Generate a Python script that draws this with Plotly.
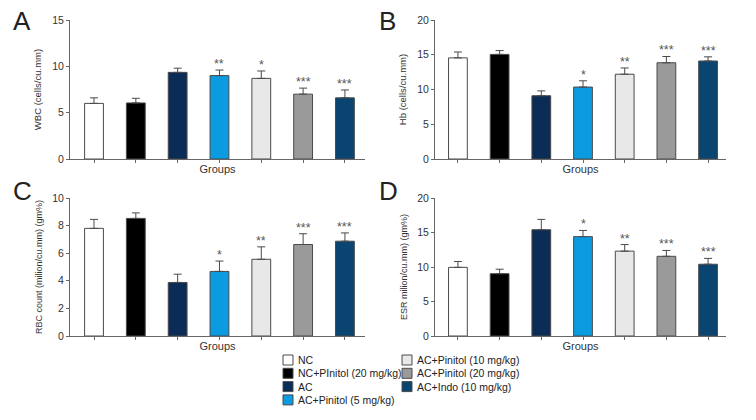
import plotly.graph_objects as go

groups = ["NC", "NC+PInitol (20 mg/kg)", "AC", "AC+Pinitol (5 mg/kg)",
          "AC+Pinitol (10 mg/kg)", "AC+Pinitol (20 mg/kg)", "AC+Indo (10 mg/kg)"]
colors = ["#ffffff", "#000000", "#0b2c57", "#0a9be0", "#e8e8e8", "#9a9a9a", "#0a4470"]

wbc = [6.0, 6.05, 9.35, 9.0, 8.7, 7.0, 6.6]
wbc_err = [0.6, 0.5, 0.45, 0.6, 0.8, 0.65, 0.85]
hb = [14.55, 15.05, 9.1, 10.35, 12.2, 13.85, 14.1]
hb_err = [0.85, 0.55, 0.7, 0.9, 0.9, 0.9, 0.6]
rbc = [7.8, 8.52, 3.88, 4.68, 5.56, 6.63, 6.87]
rbc_err = [0.65, 0.4, 0.6, 0.75, 0.9, 0.78, 0.6]
esr = [9.95, 9.03, 15.4, 14.4, 12.3, 11.55, 10.4]
esr_err = [0.85, 0.65, 1.5, 0.9, 0.95, 0.85, 0.85]
sig = ["", "", "", "**", "*", "***", "***"]
sig_hb = ["", "", "", "*", "**", "***", "***"]

panels = [
    dict(vals=wbc, err=wbc_err, sig=sig, xa="x", ya="y",
         title="WBC (cells/cu.mm)", letter="A"),
    dict(vals=hb, err=hb_err, sig=sig_hb, xa="x2", ya="y2",
         title="Hb (cells/cu.mm)", letter="B"),
    dict(vals=rbc, err=rbc_err, sig=sig_hb, xa="x3", ya="y3",
         title="RBC count (milion/cu.mm) (gm%)", letter="C"),
    dict(vals=esr, err=esr_err, sig=sig_hb, xa="x4", ya="y4",
         title="ESR milion/cu.mm) (gm%)", letter="D"),
]

W, H = 756, 420
def fx(p): return p / W
def fy(p): return (H - p) / H

FONT = "Liberation Sans Narrow, Liberation Sans, Arial, sans-serif"
def F(size, color="#333333"):
    return dict(size=size, color=color, family=FONT)

fig = go.Figure()

for pi, p in enumerate(panels):
    for i, g in enumerate(groups):
        fig.add_trace(go.Bar(
            x=[i], y=[p["vals"][i]], name=g, xaxis=p["xa"], yaxis=p["ya"],
            marker=dict(color=colors[i], line=dict(color="#4a4a4a", width=1)),
            width=0.45,
            error_y=dict(type="data", symmetric=False, array=[p["err"][i]],
                         arrayminus=[0], color="#4a4a4a", thickness=1, width=4),
            showlegend=False,
        ))
        if p["sig"][i]:
            fig.add_annotation(x=i, y=p["vals"][i] + p["err"][i], xref=p["xa"], yref=p["ya"],
                               text=p["sig"][i], showarrow=False, yanchor="bottom", yshift=-3,
                               font=F(12.5, "#555555"))

left_x = [fx(70), fx(365)]
right_x = [fx(435), fx(726)]
top_y = [fy(159), fy(20)]
bot_y = [fy(336), fy(198)]

common_x = dict(showgrid=False, zeroline=False, showline=True, linecolor="#666666", linewidth=1,
                ticks="outside", ticklen=3, tickcolor="#666666", tickvals=list(range(7)),
                showticklabels=False, automargin=False,
                title=dict(text="Groups", standoff=3, font=F(11)))
common_y = dict(showgrid=False, zeroline=False, showline=True, linecolor="#666666", linewidth=1,
                ticks="outside", ticklen=3, tickcolor="#666666", tickfont=F(10.5),
                automargin=False)

fig.update_layout(
    width=W, height=H, margin=dict(l=0, r=0, t=0, b=0, pad=0, autoexpand=False),
    paper_bgcolor="white", plot_bgcolor="white",
    barmode="overlay", showlegend=False,
    font=F(11),
    xaxis=dict(domain=left_x, range=[-0.574, 6.48], anchor="y", **common_x),
    yaxis=dict(domain=top_y, range=[0, 15], dtick=5, anchor="x",
               title=dict(text=panels[0]["title"], font=F(9.5), standoff=8), **common_y),
    xaxis2=dict(domain=right_x, range=[-0.55, 6.43], anchor="y2", **common_x),
    yaxis2=dict(domain=top_y, range=[0, 20], dtick=5, anchor="x2",
                title=dict(text=panels[1]["title"], font=F(9.5), standoff=8), **common_y),
    xaxis3=dict(domain=left_x, range=[-0.574, 6.48], anchor="y3", **common_x),
    yaxis3=dict(domain=bot_y, range=[0, 10], dtick=2, anchor="x3",
                title=dict(text=panels[2]["title"], font=F(9), standoff=8), **common_y),
    xaxis4=dict(domain=right_x, range=[-0.55, 6.43], anchor="y4", **common_x),
    yaxis4=dict(domain=bot_y, range=[0, 20], dtick=5, anchor="x4",
                title=dict(text=panels[3]["title"], font=F(9), standoff=8), **common_y),
)

# manual two-column legend
col_x = [283, 402]
row_y0, row_dy, sw = 355, 13.3, 10
for i, (g, c) in enumerate(zip(groups, colors)):
    col = 0 if i < 4 else 1
    row = i if i < 4 else i - 4
    x0 = col_x[col]
    y0 = row_y0 + row * row_dy
    fig.add_shape(type="rect", xref="paper", yref="paper",
                  x0=fx(x0), x1=fx(x0 + sw), y0=fy(y0), y1=fy(y0 + sw),
                  fillcolor=c, line=dict(color="#4a4a4a", width=1))
    fig.add_annotation(x=fx(x0 + sw + 3), y=fy(y0 + sw / 2), xref="paper", yref="paper",
                       text=g, showarrow=False, xanchor="left", yanchor="middle",
                       font=F(10.5, "#222222"))

letter_pos = [(11, 4), (377, 4), (11, 174), (377, 174)]
for p, (lx, ly) in zip(panels, letter_pos):
    fig.add_annotation(x=fx(lx), y=fy(ly), xref="paper", yref="paper", text=p["letter"],
                       showarrow=False, xanchor="left", yanchor="top",
                       font=F(26, "#222222"))

fig.write_html("out.html", config={"displayModeBar": False},
               post_script="document.body.style.margin='0px';document.body.style.padding='0px';")
